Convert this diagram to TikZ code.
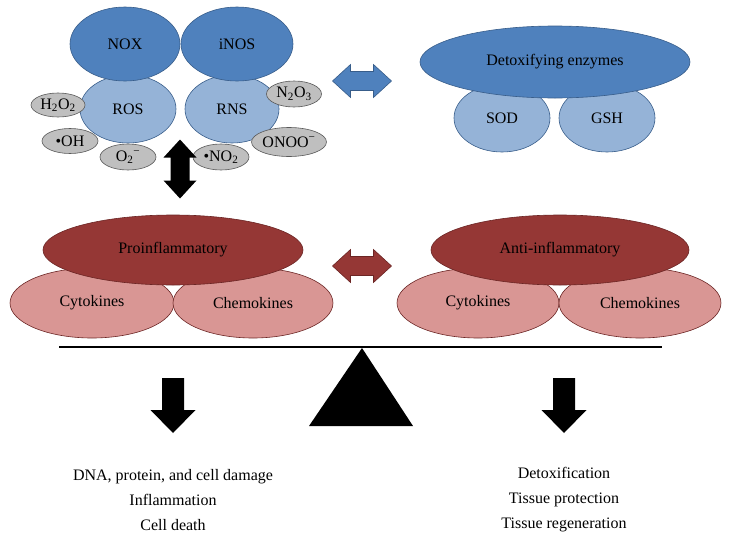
\documentclass[tikz,border=0pt]{standalone}
\usepackage{fontspec}
\setmainfont{Liberation Serif}
\usetikzlibrary{shapes.geometric}

\definecolor{enzblue}{HTML}{4F81BD}
\definecolor{enzline}{HTML}{385D8A}
\definecolor{reactblue}{HTML}{95B3D7}
\definecolor{radgray}{HTML}{BFBFBF}
\definecolor{radline}{HTML}{595959}
\definecolor{inflamred}{HTML}{953735}
\definecolor{inflamline}{HTML}{6B2524}
\definecolor{mediatorpink}{HTML}{D99694}

\tikzset{
  blobsize/.style 2 args={ellipse, inner sep=0pt, minimum width=#1, minimum height=#2},
  enzyme/.style={fill=enzblue, draw=enzline, line width=0.6pt},
  species/.style={fill=reactblue, draw=enzline, line width=0.6pt},
  radical/.style={fill=radgray, draw=radline, line width=0.6pt, inner xsep=-3pt},
  inflam/.style={fill=inflamred, draw=inflamline, line width=0.6pt},
  mediator/.style={fill=mediatorpink, draw=inflamline, line width=0.6pt},
  dblarrow/.pic={\path[pic actions] (-29.5,0) -- (-11.5,-16.5) -- (-11.5,-9.5) -- (11.5,-9.5) -- (11.5,-16.5)
      -- (29.5,0) -- (11.5,16.5) -- (11.5,9.5) -- (-11.5,9.5) -- (-11.5,16.5) -- cycle;},
  downarrow/.pic={\path[pic actions] (-11,0) -- (11,0) -- (11,32) -- (22.5,32) -- (0,55) -- (-22.5,32) -- (-11,32) -- cycle;}
}

\begin{document}
\begin{tikzpicture}[x=1pt,y=-1pt,font=\fontsize{16}{25}\selectfont]
  \useasboundingbox (0,0) rectangle (729,544);

  % oxidants
  \node[species, blobsize={96pt}{68pt}] (ros)  at (128,109) {ROS};
  \node[species, blobsize={94pt}{68pt}] (rns)  at (232,109) {RNS};
  \node[enzyme, blobsize={110pt}{74pt}] (nox)  at (125,44)  {NOX};
  \node[enzyme, blobsize={112pt}{74pt}] (inos) at (237,44)  {iNOS};
  \node[radical, blobsize={54pt}{24pt}] (h2o2) at (58,105)  {H\textsubscript{2}O\textsubscript{2}};
  \node[radical, blobsize={56pt}{25pt}] (oh)   at (70,141)  {•OH};
  \node[radical, blobsize={56pt}{26pt}] (o2)   at (128,157) {O\textsubscript{2}\textsuperscript{−}};
  \node[radical, blobsize={56pt}{26pt}] (no2)  at (221,157) {•NO\textsubscript{2}};
  \node[radical, blobsize={70pt}{29pt}] (onoo) at (289,142) {ONOO\textsuperscript{−}};
  \node[radical, blobsize={55pt}{26pt}] (n2o3) at (294,94)  {N\textsubscript{2}O\textsubscript{3}};

  % antioxidants
  \node[species, blobsize={96pt}{68pt}] (sod)   at (502,118) {SOD};
  \node[species, blobsize={96pt}{68pt}] (gsh)   at (607,118) {GSH};
  \node[enzyme, blobsize={270pt}{72pt}] (detox) at (555,62)  {Detoxifying enzymes};

  % inflammation
  \node[mediator, blobsize={164pt}{70pt}] (cytoL)  at (92,303)  {Cytokines};
  \node[mediator, blobsize={160pt}{70pt}] (chemoL) at (253,303) {Chemokines};
  \node[inflam, blobsize={260pt}{70pt}]   (pro)    at (173,250) {Proinflammatory};
  \node[mediator, blobsize={162pt}{70pt}] (cytoR)  at (478,303) {Cytokines};
  \node[mediator, blobsize={162pt}{70pt}] (chemoR) at (640,303) {Chemokines};
  \node[inflam, blobsize={258pt}{70pt}]   (anti)   at (560,250) {Anti-inflammatory};

  \pic[fill=enzblue, draw=enzline, line width=0.6pt] (redox) at (362,81) {dblarrow};
  \pic[fill=inflamred, draw=inflamline, line width=0.6pt] (cyto) at (362,266) {dblarrow};
  \pic[fill=black, rotate=90] (link) at (180,169) {dblarrow};

  % balance
  \coordinate (beamL) at (59,347);
  \coordinate (beamR) at (662,347);
  \coordinate (pivot) at (362,348);
  \draw[line width=1.2pt] (beamL) -- (beamR);
  \fill (pivot) -- ++(51,78) -- ++(-104,0) -- cycle;

  \pic[fill=black] (downL) at (173,378) {downarrow};
  \pic[fill=black] (downR) at (564,378) {downarrow};

  \node[align=center] (harm) at (173,500) {DNA, protein, and cell damage\\Inflammation\\Cell death};
  \node[align=center] (heal) at (564,500) {Detoxification\\Tissue protection\\Tissue regeneration};
\end{tikzpicture}
\end{document}
